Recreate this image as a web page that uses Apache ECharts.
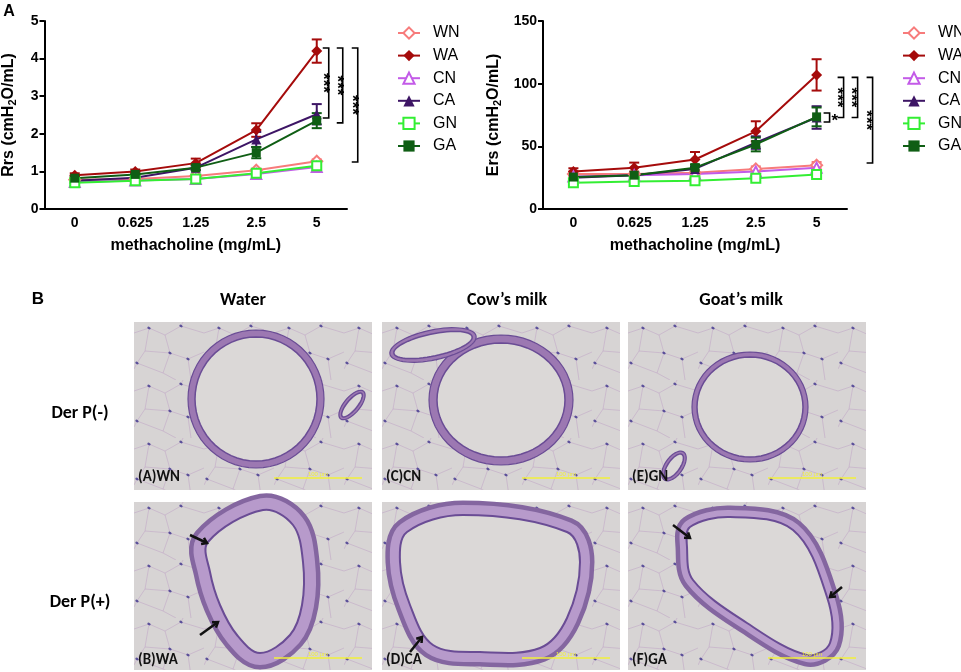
<!DOCTYPE html>
<html>
<head>
<meta charset="utf-8">
<script src="https://cdn.jsdelivr.net/npm/echarts@6/dist/echarts.min.js"></script>
<style>
html, body { margin: 0; background: #fff; }
#main { width: 961px; height: 672px; }
</style>
</head>
<body>
<div id="main"></div>
<script>
// ---- data ----
var doses = ['0', '0.625', '1.25', '2.5', '5'];
var groups = ['WN', 'WA', 'CN', 'CA', 'GN', 'GA'];

// Rrs (cmH2O/mL), mean and SEM per group
var rrsWN = [0.78, 0.80, 0.88, 1.03, 1.27];
var rrsWA = [0.90, 1.00, 1.22, 2.10, 4.20];
var rrsCN = [0.72, 0.76, 0.80, 0.93, 1.12];
var rrsCA = [0.75, 0.83, 1.10, 1.85, 2.52];
var rrsGN = [0.70, 0.75, 0.80, 0.95, 1.15];
var rrsGA = [0.82, 0.92, 1.10, 1.50, 2.35];
var rrsSemWN = [0.03, 0.03, 0.03, 0.04, 0.05];
var rrsSemWA = [0.05, 0.05, 0.12, 0.18, 0.31];
var rrsSemCN = [0.03, 0.03, 0.03, 0.03, 0.05];
var rrsSemCA = [0.05, 0.05, 0.06, 0.20, 0.27];
var rrsSemGN = [0.03, 0.03, 0.03, 0.03, 0.05];
var rrsSemGA = [0.05, 0.05, 0.07, 0.15, 0.20];

// Ers (cmH2O/mL)
var ersWN = [28, 28, 29, 32, 35];
var ersWA = [30, 33, 39.5, 62, 107];
var ersCN = [26, 27, 28, 30, 33];
var ersCA = [25, 27, 32, 53, 73];
var ersGN = [21, 22, 22.5, 24.5, 27.5];
var ersGA = [25.5, 27, 33, 51.5, 73.5];
var ersSemWN = [2, 2, 2, 2, 2.5];
var ersSemWA = [2.5, 4, 6, 8, 12.5];
var ersSemCN = [2, 2, 2, 2, 2];
var ersSemCA = [2, 2, 2, 5, 9];
var ersSemGN = [1.5, 1.5, 1.5, 1.5, 2];
var ersSemGA = [2, 2, 2.5, 5.5, 7.5];

// significance brackets at 5 mg/mL: [top, bottom, label]
var rrsBrackets = [[4.28, 2.42, '***'], [4.28, 2.29, '***'], [4.28, 1.25, '***']];
var ersBrackets = [[76.6, 69.4, '*'], [105, 73, '***'], [105, 73, '***'], [105, 36.7, '***']];

// panel B labels
var colTitles = ['Water', 'Cow\u2019s milk', 'Goat\u2019s milk'];
var rowTitles = ['Der P(-)', 'Der P(+)'];
var panelTags = [['(A)WN', '(C)CN', '(E)GN'], ['(B)WA', '(D)CA', '(F)GA']];

// ---- styles ----
var colors = { WN: '#f77b7b', WA: '#a50b0b', CN: '#c35be8', CA: '#3d1565', GN: '#33ee33', GA: '#0f5e14' };
var symbols = { WN: 'emptyDiamond', WA: 'diamond', CN: 'emptyTriangle', CA: 'triangle', GN: 'emptyRect', GA: 'rect' };
var symSizes = { WN: 11, WA: 11, CN: 10, CA: 10, GN: 9, GA: 9 };
var FONT = 'Liberation Sans, Arial, sans-serif';
var NARROW = 'Carlito, "Liberation Sans Narrow", "Liberation Sans", sans-serif';

var rrsMeans = { WN: rrsWN, WA: rrsWA, CN: rrsCN, CA: rrsCA, GN: rrsGN, GA: rrsGA };
var rrsSems = { WN: rrsSemWN, WA: rrsSemWA, CN: rrsSemCN, CA: rrsSemCA, GN: rrsSemGN, GA: rrsSemGA };
var ersMeans = { WN: ersWN, WA: ersWA, CN: ersCN, CA: ersCA, GN: ersGN, GA: ersGA };
var ersSems = { WN: ersSemWN, WA: ersSemWA, CN: ersSemCN, CA: ersSemCA, GN: ersSemGN, GA: ersSemGA };

var chart = echarts.init(document.getElementById('main'));

function errRender(params, api) {
	var x = api.value(0), m = api.value(1), s = api.value(2);
	var hi = api.coord([x, m + s]), lo = api.coord([x, m - s]);
	var st = { stroke: api.visual('color'), lineWidth: 2 };
	return { type: 'group', children: [
		{ type: 'line', shape: { x1: hi[0], y1: hi[1], x2: lo[0], y2: lo[1] }, style: st },
		{ type: 'line', shape: { x1: hi[0] - 5, y1: hi[1], x2: hi[0] + 5, y2: hi[1] }, style: st },
		{ type: 'line', shape: { x1: lo[0] - 5, y1: lo[1], x2: lo[0] + 5, y2: lo[1] }, style: st }
	] };
}

function bracketSeries(list, idx, offsets) {
	return {
		type: 'custom', xAxisIndex: idx, yAxisIndex: idx, silent: true, clip: false, z: 5,
		data: list.map(function (b) { return [4, b[0], b[1]]; }),
		renderItem: function (params, api) {
			var top = api.coord([4, api.value(1)]), bot = api.coord([4, api.value(2)]);
			var x = top[0] + offsets[params.dataIndex];
			var lab = list[params.dataIndex][2];
			var single = lab === '*';
			return { type: 'group', children: [
				{ type: 'polyline', shape: { points: [[x - 6, top[1]], [x, top[1]], [x, bot[1]], [x - 6, bot[1]]] },
				  style: { stroke: '#000', lineWidth: 1.6, fill: null } },
				{ type: 'text', x: x + (single ? 2 : 2), y: (top[1] + bot[1]) / 2 + (single ? 4 : 0), rotation: single ? 0 : -Math.PI / 2,
				  style: { text: lab, font: 'bold 17px ' + FONT, fill: '#000', align: single ? 'left' : 'center', verticalAlign: single ? 'middle' : 'top' } }
			] };
		}
	};
}

var series = [];
[[rrsMeans, rrsSems, 0], [ersMeans, ersSems, 1]].forEach(function (set) {
	groups.forEach(function (g) {
		series.push({
			name: g, type: 'line', xAxisIndex: set[2], yAxisIndex: set[2],
			data: set[0][g], symbol: symbols[g], symbolSize: symSizes[g],
			color: colors[g], lineStyle: { width: 2 }, itemStyle: { borderWidth: 2 }, z: 3
		});
	});
	groups.forEach(function (g) {
		series.push({
			name: g + ' sem', type: 'custom', xAxisIndex: set[2], yAxisIndex: set[2], z: 2,
			color: colors[g], renderItem: errRender,
			data: set[0][g].map(function (v, i) { return [i, v, set[1][g][i]]; })
		});
	});
});
series.push(bracketSeries(rrsBrackets, 0, [12, 26, 41]));
series.push(bracketSeries(ersBrackets, 1, [13, 27, 41, 56]));

function xAxisOpt(idx) {
	return {
		type: 'category', gridIndex: idx, data: doses, boundaryGap: true,
		axisLine: { lineStyle: { color: '#000', width: 2 } },
		axisTick: { alignWithLabel: true, length: 5, lineStyle: { width: 2, color: '#000' } },
		axisLabel: { color: '#000', fontWeight: 'bold', fontSize: 14, fontFamily: FONT, margin: 7 },
		name: 'methacholine (mg/mL)', nameLocation: 'middle', nameGap: 29,
		nameTextStyle: { color: '#000', fontWeight: 'bold', fontSize: 16, fontFamily: FONT }
	};
}
function yAxisOpt(idx, max, step, label, gap) {
	return {
		type: 'value', gridIndex: idx, min: 0, max: max, interval: step,
		axisLine: { show: true, lineStyle: { color: '#000', width: 2 } },
		axisTick: { show: true, length: 5, lineStyle: { width: 2, color: '#000' } },
		splitLine: { show: false },
		axisLabel: { color: '#000', fontWeight: 'bold', fontSize: 14, fontFamily: FONT, margin: 6 },
		name: label + ' (cmH{s|2}O/mL)', nameLocation: 'middle', nameRotate: 90, nameGap: gap,
		nameTextStyle: { color: '#000', fontWeight: 'bold', fontSize: 16, fontFamily: FONT,
			rich: { s: { fontSize: 11, fontWeight: 'bold', fontFamily: FONT, color: '#000', verticalAlign: 'bottom', padding: [8, 0, 0, 0] } } }
	};
}
function legendOpt(left) {
	return {
		orient: 'vertical', left: left, top: 20, data: groups,
		itemWidth: 22, itemHeight: 14, itemGap: 6.6,
		formatter: function (n) { return '{t|' + n + '}'; },
		textStyle: { rich: { t: { fontSize: 16, fontFamily: FONT, color: '#000', padding: [0, 0, 0, 8] } } }
	};
}

// ---- histology panels drawn as plain shapes ----
function tissueTile() {
	var c = document.createElement('canvas');
	c.width = 70; c.height = 58;
	var ctx = c.getContext('2d');
	ctx.fillStyle = '#d7d4d4';
	ctx.fillRect(0, 0, 70, 58);
	ctx.strokeStyle = 'rgba(180,140,190,0.45)';
	ctx.lineWidth = 0.8;
	var paths = [
		[[0, 11], [15, 6], [31, 13], [47, 4], [70, 11]],
		[[15, 6], [11, 29], [3, 41], [0, 47]],
		[[31, 13], [36, 31], [54, 37], [70, 30]],
		[[11, 29], [36, 31]],
		[[36, 31], [29, 51], [42, 58]],
		[[54, 37], [57, 58]],
		[[47, 4], [49, 0]],
		[[3, 41], [29, 51]]
	];
	paths.forEach(function (p) {
		ctx.beginPath();
		ctx.moveTo(p[0][0], p[0][1]);
		for (var i = 1; i < p.length; i++) ctx.lineTo(p[i][0], p[i][1]);
		ctx.stroke();
	});
	ctx.fillStyle = 'rgba(60,50,140,0.8)';
	[[15, 6], [36, 31], [54, 37], [3, 41], [47, 4]].forEach(function (d) {
		ctx.beginPath();
		ctx.ellipse(d[0], d[1], 1.8, 1.2, 0.5, 0, Math.PI * 2);
		ctx.fill();
	});
	return c;
}
var tile = tissueTile();
var WALL = '#9c78b2', EDGE = '#6a4c95', LUMEN = '#dbd8d7';

function ellipsePts(cx, cy, rx, ry, rot) {
	var a = rot * Math.PI / 180, pts = [];
	for (var k = 0; k < 60; k++) {
		var t = k / 60 * Math.PI * 2, x = rx * Math.cos(t), y = ry * Math.sin(t);
		pts.push([cx + x * Math.cos(a) - y * Math.sin(a), cy + x * Math.sin(a) + y * Math.cos(a)]);
	}
	return pts;
}
function ring(cx, cy, rx, ry, rot, w) {
	return [
		{ type: 'polygon', shape: { points: ellipsePts(cx, cy, rx, ry, rot) }, style: { fill: WALL, stroke: EDGE, lineWidth: 1.2 } },
		{ type: 'polygon', shape: { points: ellipsePts(cx, cy, rx - w, ry - w, rot) }, style: { fill: LUMEN, stroke: EDGE, lineWidth: 1.5 } }
	];
}
function thickAirway(pts, w) {
	return [
		{ type: 'polygon', shape: { points: pts, smooth: 0.35 }, style: { fill: WALL, stroke: '#8466a0', lineWidth: 2 * w + 3, lineJoin: 'round' } },
		{ type: 'polygon', shape: { points: pts, smooth: 0.35 }, style: { fill: WALL, stroke: '#b79acb', lineWidth: 2 * w - 6, lineJoin: 'round' } },
		{ type: 'polygon', shape: { points: pts, smooth: 0.35 }, style: { fill: LUMEN, stroke: EDGE, lineWidth: 2, lineJoin: 'round' } }
	];
}
function arrow(x1, y1, x2, y2) {
	var a = Math.atan2(y2 - y1, x2 - x1), h = 6;
	return [
		{ type: 'line', shape: { x1: x1, y1: y1, x2: x2, y2: y2 }, style: { stroke: '#111', lineWidth: 2.5 } },
		{ type: 'polyline', shape: { points: [
			[x2 - h * Math.cos(a - 0.6), y2 - h * Math.sin(a - 0.6)], [x2, y2],
			[x2 - h * Math.cos(a + 0.6), y2 - h * Math.sin(a + 0.6)]] },
		  style: { stroke: '#111', lineWidth: 2.5, fill: null } }
	];
}

var panelX = [134, 382, 628], panelY = [322, 502], PW = 238, PH = 168;
var shapes = [
	[
		ring(122, 77, 68, 69, 0, 7).concat(ring(218, 83, 18, 8, -50, 3)),
		ring(119, 78, 72, 65, 0, 8).concat(ring(51, 23, 44, 15, -12, 4)),
		ring(122, 85, 58, 55, 0, 5).concat(ring(46, 144, 17, 9, -55, 3))
	],
	[
		thickAirway([[74, 40], [129, 8], [159, 23], [169, 60], [168, 103], [156, 133], [126, 151], [103, 133], [86, 103], [76, 70]], 15)
			.concat(arrow(56, 33, 73, 41), arrow(66, 133, 84, 120)),
		thickAirway([[25, 30], [81, 13], [185, 30], [198, 60], [185, 116], [158, 146], [98, 150], [51, 143], [28, 103], [18, 60]], 13)
			.concat(arrow(28, 150, 40, 135)),
		thickAirway([[62, 25], [102, 15], [165, 28], [199, 95], [202, 141], [179, 153], [119, 121], [65, 78], [59, 45]], 10)
			.concat(arrow(45, 23, 62, 36), arrow(214, 85, 202, 95))
	]
];

var graphics = [
	{ type: 'text', x: 9, y: 12, style: { text: 'A', font: 'bold 16px ' + FONT, fill: '#000', align: 'center', verticalAlign: 'middle' } },
	{ type: 'text', x: 38, y: 299, style: { text: 'B', font: 'bold 17px ' + FONT, fill: '#000', align: 'center', verticalAlign: 'middle' } }
];
var titleX = [243, 507, 741];
colTitles.forEach(function (t, i) {
	graphics.push({ type: 'text', x: titleX[i], y: 300, style: { text: t, font: 'bold 18px ' + NARROW, fill: '#000', align: 'center', verticalAlign: 'middle' } });
});
rowTitles.forEach(function (t, r) {
	graphics.push({ type: 'text', x: 80, y: [413, 602][r], style: { text: t, font: 'bold 18px ' + NARROW, fill: '#000', align: 'center', verticalAlign: 'middle' } });
});
for (var r = 0; r < 2; r++) {
	for (var c = 0; c < 3; c++) {
		var kids = [
			{ type: 'rect', shape: { x: 0, y: 0, width: PW, height: PH }, style: { fill: { image: tile, repeat: 'repeat' } } }
		].concat(shapes[r][c], [
			{ type: 'line', shape: { x1: 140, y1: 156, x2: 228, y2: 156 }, style: { stroke: '#f2f03a', lineWidth: 1.5 } },
			{ type: 'text', x: 184, y: 152, style: { text: '100 \u03bcm', font: '6px ' + FONT, fill: '#f2f03a', align: 'center', verticalAlign: 'middle' } },
			{ type: 'text', x: 4, y: r === 0 ? 155 : 158, style: { text: panelTags[r][c], font: 'bold 15px ' + NARROW, fill: '#111', align: 'left', verticalAlign: 'middle' } }
		]);
		graphics.push({ type: 'group', x: panelX[c], y: panelY[r], children: kids });
	}
}

var option = {
	backgroundColor: '#fff',
	animation: false,
	grid: [
		{ left: 44, top: 21, width: 303, height: 188 },
		{ left: 543, top: 21, width: 304, height: 188 }
	],
	xAxis: [xAxisOpt(0), xAxisOpt(1)],
	yAxis: [yAxisOpt(0, 5, 1, 'Rrs', 26), yAxisOpt(1, 150, 50, 'Ers', 40)],
	legend: [legendOpt(392), legendOpt(897)],
	series: series,
	graphic: graphics
};
chart.setOption(option);
window.onresize = chart.resize;
</script>
</body>
</html>
